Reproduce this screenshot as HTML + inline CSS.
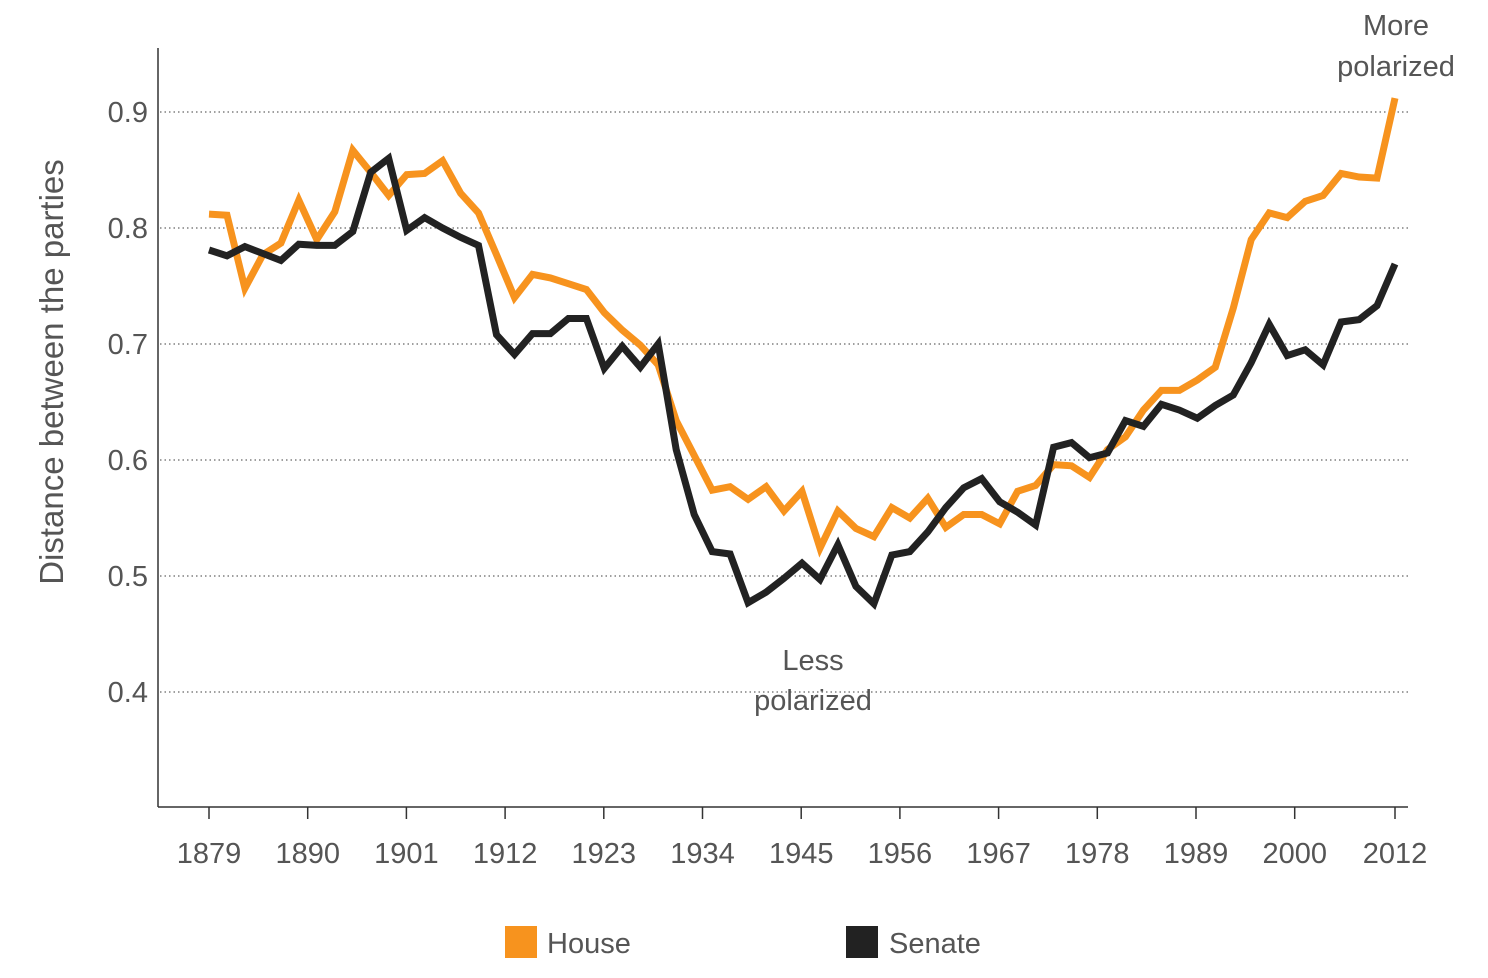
<!DOCTYPE html>
<html><head><meta charset="utf-8"><style>
html,body{margin:0;padding:0;background:#fff;}
svg text{font-family:"Liberation Sans",sans-serif;fill:#555;}
</style></head><body>
<svg width="1488" height="973" viewBox="0 0 1488 973">
<g id="grid"></g>
<line x1="158" y1="48" x2="158" y2="807" stroke="#333" stroke-width="1.5"/>
<line x1="158" y1="807" x2="1408" y2="807" stroke="#333" stroke-width="1.5"/>
<g id="ticks"></g>
<g id="series"></g>
<text x="63" y="372" font-size="33" text-anchor="middle" transform="rotate(-90 63 372)">Distance between the parties</text>
<text x="813" y="670" font-size="29" text-anchor="middle">Less</text>
<text x="813" y="710" font-size="29" text-anchor="middle">polarized</text>
<text x="1396" y="35" font-size="29" text-anchor="middle">More</text>
<text x="1396" y="76" font-size="29" text-anchor="middle">polarized</text>
<rect x="505" y="926" width="32" height="32" fill="#f7931e"/>
<text x="547" y="953" font-size="29">House</text>
<rect x="846" y="926" width="32" height="32" fill="#222"/>
<text x="889" y="953" font-size="29">Senate</text>
</svg>
<script>
const startYear = 1879;
const yTicks = [0.4,0.5,0.6,0.7,0.8,0.9];
const xTickLabels = [1879,1890,1901,1912,1923,1934,1945,1956,1967,1978,1989,2000,2012];
const house = [0.812,0.811,0.748,0.777,0.787,0.824,0.79,0.814,0.867,0.848,0.828,0.846,0.847,0.858,0.83,0.813,0.777,0.74,0.76,0.757,0.752,0.747,0.727,0.712,0.699,0.682,0.634,0.604,0.574,0.577,0.566,0.577,0.556,0.573,0.524,0.556,0.541,0.534,0.559,0.55,0.567,0.542,0.553,0.553,0.545,0.573,0.578,0.596,0.595,0.585,0.609,0.62,0.643,0.66,0.66,0.669,0.68,0.731,0.79,0.813,0.809,0.823,0.828,0.847,0.844,0.843,0.912];
const senate = [0.781,0.776,0.784,0.778,0.772,0.786,0.785,0.785,0.797,0.848,0.86,0.798,0.809,0.8,0.792,0.785,0.708,0.691,0.709,0.709,0.722,0.722,0.679,0.698,0.68,0.7,0.609,0.553,0.521,0.519,0.477,0.486,0.498,0.511,0.497,0.527,0.491,0.476,0.518,0.521,0.538,0.559,0.576,0.584,0.564,0.555,0.544,0.611,0.615,0.602,0.606,0.634,0.629,0.648,0.643,0.636,0.647,0.656,0.684,0.717,0.69,0.695,0.682,0.719,0.721,0.733,0.769];
const NS='http://www.w3.org/2000/svg';
const yS = v => 692 - (v-0.4)*1160;
const xS = yr => 209 + (yr-startYear)*(1186/132);
const grid=document.getElementById('grid'), ticks=document.getElementById('ticks'), ser=document.getElementById('series');
yTicks.forEach(v=>{
  const l=document.createElementNS(NS,'line');
  l.setAttribute('x1',160);l.setAttribute('x2',1408);l.setAttribute('y1',yS(v));l.setAttribute('y2',yS(v));
  l.setAttribute('stroke','#666');l.setAttribute('stroke-dasharray','1.5 3');l.setAttribute('stroke-width','1.2');
  
  
  grid.appendChild(l);
  const t=document.createElementNS(NS,'text');
  t.setAttribute('x',148);t.setAttribute('y',yS(v)+10);t.setAttribute('text-anchor','end');t.setAttribute('font-size','29');
  t.textContent=v.toFixed(1);
  
  
  ticks.appendChild(t);
});
xTickLabels.forEach((yr,i)=>{
  const x = i<xTickLabels.length-1 ? 209+i*98.7 : 1395;
  const l=document.createElementNS(NS,'line');
  l.setAttribute('x1',x);l.setAttribute('x2',x);l.setAttribute('y1',807);l.setAttribute('y2',819);
  l.setAttribute('stroke','#333');l.setAttribute('stroke-width','1.5');
  
  
  ticks.appendChild(l);
  const t=document.createElementNS(NS,'text');
  t.setAttribute('x',x);t.setAttribute('y',863);t.setAttribute('text-anchor','middle');t.setAttribute('font-size','29');
  t.textContent=yr;
  
  
  ticks.appendChild(t);
});
function line(data,color,name){
  const p=document.createElementNS(NS,'polyline');
  p.setAttribute('points',data.map((v,i)=>xS(startYear+2*i).toFixed(1)+','+yS(v).toFixed(1)).join(' '));
  p.setAttribute('fill','none');p.setAttribute('stroke',color);p.setAttribute('stroke-width','7');
  p.setAttribute('stroke-linejoin','miter');p.setAttribute('stroke-miterlimit','3');
  
  
  ser.appendChild(p);
}
line(house,'#f7931e','house-line');
line(senate,'#222','senate-line');
</script>
</body></html>
